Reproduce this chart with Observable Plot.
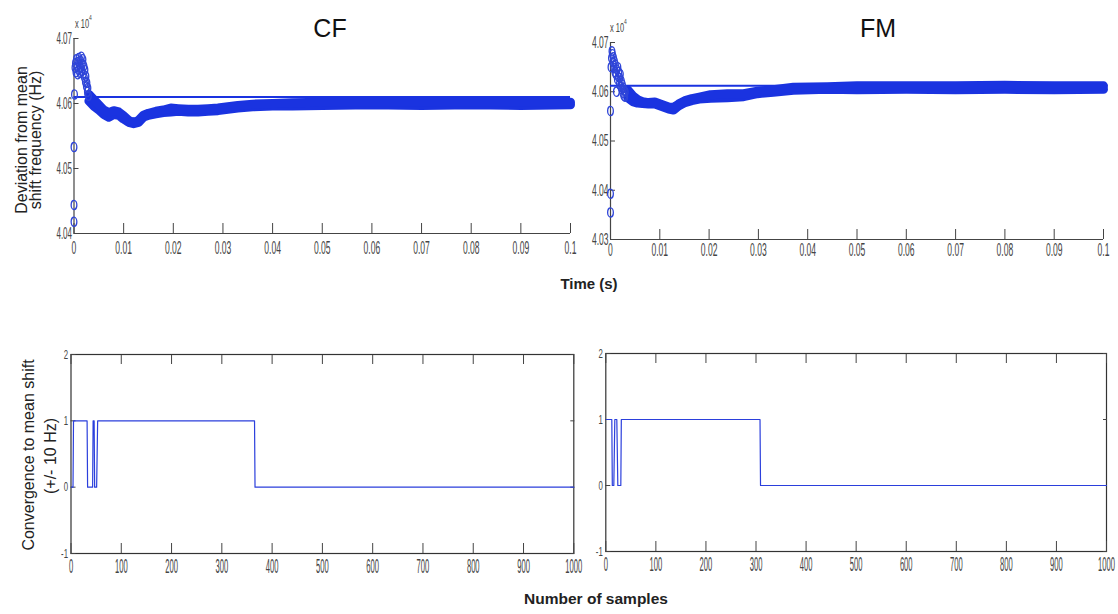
<!DOCTYPE html>
<html><head><meta charset="utf-8">
<script src="https://cdn.jsdelivr.net/npm/d3@7"></script>
<script src="https://cdn.jsdelivr.net/npm/@observablehq/plot@0.6"></script>
<style>
html,body{margin:0;padding:0;background:#fff;}
#wrap{position:relative;width:1118px;height:614px;overflow:hidden;font-family:"Liberation Sans",Arial,sans-serif;background:#fff;}
</style></head><body><div id="wrap"></div>
<script>
// ---------- tick values and labels ----------
const timeTicks = [0, 0.01, 0.02, 0.03, 0.04, 0.05, 0.06, 0.07, 0.08, 0.09, 0.1];
const timeTickLabels = ["0", "0.01", "0.02", "0.03", "0.04", "0.05", "0.06", "0.07", "0.08", "0.09", "0.1"];
const cfFreqTicks = [40400, 40500, 40600, 40700];
const cfFreqTickLabels = ["4.04", "4.05", "4.06", "4.07"];
const fmFreqTicks = [40300, 40400, 40500, 40600, 40700];
const fmFreqTickLabels = ["4.03", "4.04", "4.05", "4.06", "4.07"];
const sampleTicks = [0, 100, 200, 300, 400, 500, 600, 700, 800, 900, 1000];
const sampleTickLabels = ["0", "100", "200", "300", "400", "500", "600", "700", "800", "900", "1000"];
const convTicks = [-1, 0, 1, 2];
const convTickLabels = ["-1", "0", "1", "2"];

// ---------- CF: mean-shift frequency estimates (Hz) ----------
const cfMean = 40610;
const cfEarlyT = [0, 0, 0, 0.0001, 0.0002, 0.0003, 0.0004, 0.0005, 0.0006, 0.0007, 0.0008, 0.0009, 0.0010, 0.0011, 0.0012, 0.0013, 0.0014, 0.0015, 0.0016, 0.0017, 0.0018, 0.0019, 0.0020, 0.0021, 0.0022, 0.0023, 0.0024, 0.0025, 0.0026, 0.0027, 0.0028, 0.0029];
const cfEarlyF = [40418, 40444, 40533, 40614, 40655, 40662, 40648, 40668, 40657, 40645, 40664, 40652, 40670, 40660, 40647, 40666, 40655, 40672, 40650, 40661, 40668, 40646, 40658, 40640, 40652, 40633, 40642, 40626, 40632, 40618, 40624, 40612];
const cfBandT = [0.003, 0.004, 0.005, 0.006, 0.007, 0.008, 0.009, 0.010, 0.011, 0.012, 0.013, 0.014, 0.015, 0.0165, 0.018, 0.0195, 0.021, 0.023, 0.025, 0.027, 0.029, 0.031, 0.033, 0.036, 0.040, 0.044, 0.050, 0.060, 0.070, 0.080, 0.090, 0.100];
const cfBandLow = [40604, 40596, 40590, 40583, 40579, 40583, 40582, 40576, 40571, 40569, 40571, 40579, 40582, 40584, 40586, 40587, 40588, 40587, 40587, 40588, 40589, 40591, 40593, 40595, 40596, 40596, 40597, 40598, 40597, 40598, 40597, 40598];
const cfBandHigh = [40614, 40606, 40598, 40590, 40586, 40589, 40587, 40581, 40574, 40571, 40574, 40582, 40585, 40588, 40590, 40593, 40592, 40591, 40591, 40592, 40593, 40595, 40597, 40599, 40600, 40601, 40602, 40602, 40602, 40602, 40602, 40602];

// ---------- FM ----------
const fmMean = 40612;
const fmEarlyT = [0, 0, 0, 0.0001, 0.0002, 0.0003, 0.0004, 0.0005, 0.0006, 0.0007, 0.0008, 0.0009, 0.0010, 0.0011, 0.0012, 0.0013, 0.0014, 0.0015, 0.0016, 0.0017, 0.0018, 0.0019, 0.0020, 0.0021, 0.0022, 0.0023, 0.0024, 0.0025, 0.0026, 0.0027, 0.0028, 0.0029, 0.0030];
const fmEarlyF = [40355, 40393, 40561, 40650, 40668, 40682, 40676, 40660, 40670, 40648, 40662, 40640, 40655, 40635, 40600, 40645, 40625, 40650, 40630, 40640, 40615, 40628, 40636, 40610, 40622, 40605, 40615, 40598, 40608, 40592, 40603, 40590, 40600];
const fmBandT = [0.0035, 0.0045, 0.0055, 0.0065, 0.0077, 0.009, 0.0104, 0.0118, 0.0128, 0.0138, 0.0151, 0.0165, 0.018, 0.0203, 0.0237, 0.027, 0.0298, 0.033, 0.0371, 0.044, 0.05, 0.06, 0.07, 0.08, 0.09, 0.1];
const fmBandLow = [40588, 40580, 40577, 40576, 40575, 40575, 40570, 40565, 40563, 40571, 40578, 40582, 40585, 40587, 40588, 40590, 40596, 40599, 40603, 40605, 40604, 40605, 40604, 40605, 40604, 40605];
const fmBandHigh = [40604, 40592, 40584, 40580, 40578, 40579, 40574, 40569, 40568, 40575, 40582, 40586, 40589, 40594, 40596, 40596, 40601, 40604, 40609, 40610, 40612, 40612, 40612, 40613, 40612, 40612];

// ---------- convergence flags (sample number, value) ----------
const cfConvN = [1, 4, 5, 32, 33, 43, 44, 46, 47, 51, 53, 365, 366, 1000];
const cfConvV = [0, 0, 1, 1, 0, 0, 1, 1, 0, 0, 1, 1, 0, 0];
const fmConvN = [1, 12, 13, 16, 18, 22, 24, 30, 31, 308, 309, 1000];
const fmConvV = [1, 1, 0, 0, 1, 1, 0, 0, 1, 1, 0, 0];

// ---------- styling ----------
const blue = "#1a33e0";
const dotBlue = "#2f45d8";
const stepBlue = "#2b3fdc";
const axisColor = "#444";
const fontFam = "'Liberation Sans', Arial, sans-serif";

const ellipse = {
  draw(ctx, size) {
    const r = Math.sqrt(size / Math.PI), rx = r * 0.62, ry = r, k = 0.5523;
    ctx.moveTo(rx, 0);
    ctx.bezierCurveTo(rx, ry * k, rx * k, ry, 0, ry);
    ctx.bezierCurveTo(-rx * k, ry, -rx, ry * k, -rx, 0);
    ctx.bezierCurveTo(-rx, -ry * k, -rx * k, -ry, 0, -ry);
    ctx.bezierCurveTo(rx * k, -ry, rx, -ry * k, rx, 0);
    ctx.closePath();
  }
};

const fmt = (ticks, labels) => d => labels[ticks.indexOf(d)] ?? "";
const blank = () => "";

// the original figure's tick labels are tall and horizontally compressed
function squeeze(svg, xs, ys) {
  svg.querySelectorAll("text").forEach(t => {
    if (!t.textContent) return;
    const g = t.closest("g[aria-label]");
    const isY = g && /y-axis/.test(g.getAttribute("aria-label") || "");
    const [size, s] = isY ? ys : xs;
    t.style.fontSize = size + "px";
    const w = t.getComputedTextLength();
    if (w > 0) {
      t.setAttribute("textLength", (w * s).toFixed(2));
      t.setAttribute("lengthAdjust", "spacingAndGlyphs");
    }
  });
}

function freqPlot(o) {
  const early = o.earlyT.map((t, i) => ({t, f: o.earlyF[i]}));
  const band = o.bandT.map((t, i) => ({t, lo: o.bandLow[i], hi: o.bandHigh[i]}));
  const x0 = timeTicks[0], x1 = timeTicks[timeTicks.length - 1];
  const y0 = o.yTicks[0], y1 = o.yTicks[o.yTicks.length - 1];
  return Plot.plot({
    width: o.width, height: o.height,
    marginLeft: o.ml, marginRight: o.mr, marginTop: o.mt, marginBottom: o.mb,
    x: {domain: [x0, x1]},
    y: {domain: [y0, y1]},
    style: {background: "transparent", overflow: "visible", color: axisColor, fontFamily: fontFam},
    marks: [
      Plot.ruleX([x0], {stroke: axisColor, strokeWidth: 1.2}),
      Plot.ruleY([y0], {stroke: axisColor, strokeWidth: 1.2}),
      Plot.axisX({ticks: timeTicks, tickFormat: fmt(timeTicks, timeTickLabels), tickSize: -10, tickPadding: 10 + o.xPad, fontSize: 19, label: null}),
      Plot.axisY({ticks: o.yTicks, tickFormat: fmt(o.yTicks, o.yLabels), tickSize: -5, tickPadding: 7, fontSize: o.yFont, label: null}),
      Plot.ruleY([o.mean], {x1: x0, x2: x1, stroke: blue, strokeWidth: 2}),
      Plot.areaY(band, {x: "t", y1: "lo", y2: "hi", fill: blue}),
      Plot.line(band, {x: "t", y: "lo", stroke: blue, strokeWidth: 9, strokeLinecap: "round", strokeLinejoin: "round"}),
      Plot.line(band, {x: "t", y: "hi", stroke: blue, strokeWidth: 9, strokeLinecap: "round", strokeLinejoin: "round"}),
      Plot.dot(early, {x: "t", y: "f", symbol: ellipse, r: 4.6, stroke: dotBlue, strokeWidth: 1.3, fill: "none"})
    ]
  });
}

function convPlot(o) {
  const data = o.n.map((n, i) => ({n, v: o.v[i]}));
  const x0 = sampleTicks[0], x1 = sampleTicks[sampleTicks.length - 1];
  return Plot.plot({
    width: o.width, height: o.height,
    marginLeft: o.ml, marginRight: o.mr, marginTop: o.mt, marginBottom: o.mb,
    x: {domain: [x0, x1]},
    y: {domain: [convTicks[0], convTicks[convTicks.length - 1]]},
    style: {background: "transparent", overflow: "visible", color: axisColor, fontFamily: fontFam},
    marks: [
      Plot.frame({stroke: "#333", strokeWidth: 1.2}),
      Plot.axisX({anchor: "bottom", ticks: sampleTicks, tickFormat: fmt(sampleTicks, sampleTickLabels), tickSize: -10, tickPadding: 15, fontSize: 20, label: null}),
      Plot.axisX({anchor: "top", ticks: sampleTicks, tickFormat: blank, tickSize: -9, label: null}),
      Plot.axisY({anchor: "left", ticks: convTicks, tickFormat: fmt(convTicks, convTickLabels), tickSize: -5, tickPadding: 8, fontSize: 13, label: null}),
      Plot.axisY({anchor: "right", ticks: convTicks, tickFormat: blank, tickSize: -4, label: null}),
      Plot.line(data, {x: "n", y: "v", stroke: stepBlue, strokeWidth: 1.2})
    ]
  });
}

const wrap = document.getElementById("wrap");
function place(el, left, top) {
  el.style.position = "absolute";
  el.style.left = left + "px";
  el.style.top = top + "px";
  wrap.appendChild(el);
}

const cf = freqPlot({width: 590, height: 270, ml: 73.5, mr: 20, mt: 38, mb: 37, xPad: 7,
  yTicks: cfFreqTicks, yLabels: cfFreqTickLabels, yFont: 16, mean: cfMean,
  earlyT: cfEarlyT, earlyF: cfEarlyF, bandT: cfBandT, bandLow: cfBandLow, bandHigh: cfBandHigh});
place(cf, 0, 0);
squeeze(cf, [19, 0.45], [16, 0.5]);

const fm = freqPlot({width: 528, height: 270, ml: 20, mr: 15, mt: 42, mb: 31, xPad: 3,
  yTicks: fmFreqTicks, yLabels: fmFreqTickLabels, yFont: 17, mean: fmMean,
  earlyT: fmEarlyT, earlyF: fmEarlyF, bandT: fmBandT, bandLow: fmBandLow, bandHigh: fmBandHigh});
place(fm, 590, 0);
squeeze(fm, [19, 0.45], [17, 0.5]);

const cvL = convPlot({width: 590, height: 280, ml: 70.5, mr: 16.7, mt: 54, mb: 27, n: cfConvN, v: cfConvV});
place(cvL, 0, 300);
squeeze(cvL, [20, 0.38], [13, 0.6]);

const cvR = convPlot({width: 528, height: 280, ml: 15.3, mr: 12, mt: 53, mb: 29, n: fmConvN, v: fmConvV});
place(cvR, 590, 300);
squeeze(cvR, [20, 0.38], [13, 0.6]);

// ---------- overlay texts ----------
const ns = "http://www.w3.org/2000/svg";
const ov = document.createElementNS(ns, "svg");
ov.setAttribute("width", 1118); ov.setAttribute("height", 614);
ov.style.position = "absolute"; ov.style.left = "0px"; ov.style.top = "0px"; ov.style.pointerEvents = "none";
ov.setAttribute("font-family", fontFam);
wrap.appendChild(ov);
function txt(str, attrs) {
  const t = document.createElementNS(ns, "text");
  for (const k in attrs) t.setAttribute(k, attrs[k]);
  t.textContent = str;
  ov.appendChild(t);
  return t;
}
function expo(x, y) {
  const t = document.createElementNS(ns, "text");
  t.setAttribute("transform", `translate(${x},${y}) scale(0.62,1)`);
  t.setAttribute("font-size", 12); t.setAttribute("fill", "#444");
  t.textContent = "x 10";
  const s = document.createElementNS(ns, "tspan");
  s.setAttribute("dy", -8); s.setAttribute("font-size", 8); s.textContent = "4";
  t.appendChild(s);
  ov.appendChild(t);
}
txt("CF", {x: 330, y: 37, "font-size": 25, "text-anchor": "middle", fill: "#111"});
txt("FM", {x: 878, y: 37, "font-size": 25, "text-anchor": "middle", fill: "#111"});
expo(75, 28);
expo(610, 32);
txt("Time (s)", {x: 589, y: 289, "font-size": 15, "font-weight": "bold", "text-anchor": "middle", fill: "#222"});
txt("Number of samples", {x: 596, y: 604, "font-size": 15.5, "font-weight": "bold", "text-anchor": "middle", fill: "#222"});
txt("Deviation from mean", {transform: "translate(27,140) rotate(-90)", "font-size": 16, "text-anchor": "middle", fill: "#222"});
txt("shift frequency (Hz)", {transform: "translate(41,140) rotate(-90)", "font-size": 16, "text-anchor": "middle", fill: "#222"});
txt("Convergence to mean shift", {transform: "translate(34,455) rotate(-90)", "font-size": 16, "text-anchor": "middle", fill: "#222"});
txt("(+/- 10 Hz)", {transform: "translate(56,456) rotate(-90)", "font-size": 16, "text-anchor": "middle", fill: "#222"});
</script></body></html>
